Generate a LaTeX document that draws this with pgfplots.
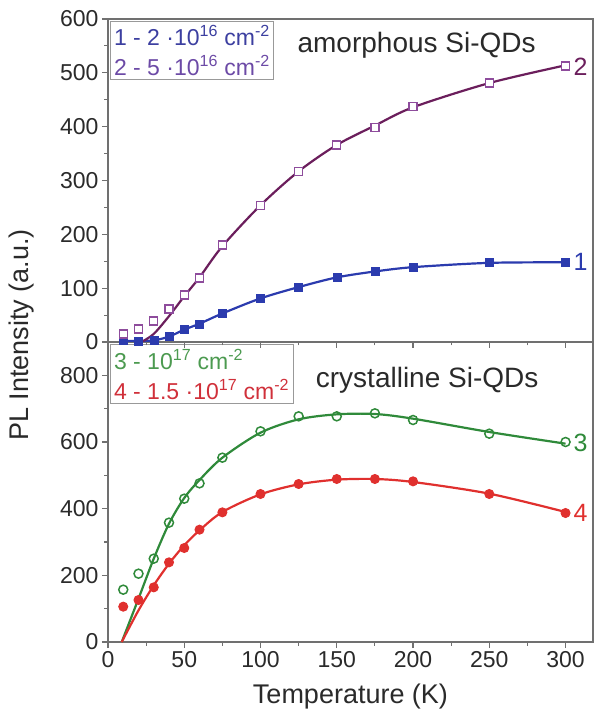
\documentclass[border=0pt]{standalone}
\usepackage{fontspec}
\setmainfont{Liberation Sans}
\usepackage{pgfplots}
\pgfplotsset{compat=1.18}

\definecolor{cblue}{HTML}{2B3BAE}
\definecolor{cpurple}{HTML}{6B1E5C}
\definecolor{cpurplemk}{HTML}{8E4C9C}
\definecolor{cgreen}{HTML}{2F8A3A}
\definecolor{cred}{HTML}{E0302E}
\definecolor{leg1}{HTML}{3C3FA0}
\definecolor{leg2}{HTML}{6C4AA6}
\definecolor{leg3}{HTML}{4C9A50}
\definecolor{leg4}{HTML}{D0303A}
\definecolor{axgray}{HTML}{707070}
\definecolor{txt}{HTML}{2A2A2A}

\pgfplotsset{
  panel/.style={
    scale only axis, width=485pt, xmin=0, xmax=318,
    axis line style={axgray, line width=1.3pt},
    every tick/.style={axgray, line width=1.1pt},
    tick align=outside, tick pos=left,
    major tick length=6pt, minor tick length=3.5pt,
    xtick={0,50,...,300}, minor x tick num=1, minor y tick num=1,
    ticklabel style={font=\fontsize{23}{23}\selectfont, text=txt},
    /pgf/number format/assume math mode=true,
    clip=true,
  },
  fitline/.style={smooth, line width=2.2pt, no marks},
}

\begin{document}
\begin{tikzpicture}
\useasboundingbox (-108pt,-82pt) rectangle (488pt,642pt);

% lower panel: crystalline Si-QDs
\begin{axis}[panel, at={(0pt,0pt)}, anchor=south west, height=300pt,
  ymin=0, ymax=900, ytick={0,200,...,800}]
  % fits
  \addplot[fitline, cgreen] coordinates {(9,0) (20,130) (30,250) (40,355) (50,432) (60,486) (75,553) (100,628) (125,668) (150,683) (175,684) (200,670) (250,630) (300,595)};
  \addplot[fitline, cred] coordinates {(9,0) (20,95) (30,170) (40,235) (50,290) (60,335) (75,390) (100,443) (125,473) (150,487) (175,489) (200,480) (250,445) (300,390)};
  % data
  \addplot[only marks, mark=o, mark size=4.5pt, mark options={cgreen, line width=1.5pt, fill=white}] coordinates {(10,157) (20,205) (30,250) (40,358) (50,430) (60,476) (75,553) (100,632) (125,677) (150,677) (175,686) (200,666) (250,625) (300,600)};
  \addplot[only marks, mark=*, mark size=4.5pt, mark options={cred, line width=1pt, fill=cred}] coordinates {(10,106) (20,126) (30,164) (40,239) (50,282) (60,337) (75,389) (100,444) (125,474) (150,489) (175,489) (200,482) (250,444) (300,387)};
  \node[anchor=north west, draw=gray!80, line width=1pt, inner sep=4pt, align=left,
        font=\fontsize{23}{30}\selectfont] at (axis cs:1,893)
    {\textcolor{leg3}{3 - 10\textsuperscript{17} cm\textsuperscript{-2}}\\
     \textcolor{leg4}{4 - 1.5 ·10\textsuperscript{17} cm\textsuperscript{-2}}};
  \node[anchor=west, font=\fontsize{28}{28}\selectfont, text=txt] at (axis cs:134,786) {crystalline Si-QDs};
  \node[anchor=west, font=\fontsize{25}{25}\selectfont, text=cgreen] at (axis cs:303,597) {3};
  \node[anchor=west, font=\fontsize{25}{25}\selectfont, text=cred] at (axis cs:303,387) {4};
\end{axis}

% upper panel: amorphous Si-QDs
\begin{axis}[panel, at={(0pt,300pt)}, anchor=south west, height=323pt,
  ymin=0, ymax=600, ytick={0,100,...,600}, xticklabels={}]
  \addplot[fitline, cblue] coordinates {(10,2) (20,2) (30,3) (40,10) (50,23) (60,34) (75,53) (100,81) (125,102) (150,120) (175,131) (200,139) (250,147) (300,148)};
  \addplot[fitline, cpurple] coordinates {(22,0) (30,15) (40,48) (50,85) (60,120) (75,178) (100,254) (125,317) (150,366) (175,402) (200,436) (250,481) (300,514)};
  \addplot[only marks, mark=square*, mark size=4pt, mark options={cblue, fill=cblue}] coordinates {(10,3) (20,2) (30,3) (40,10) (50,24) (60,33) (75,53) (100,81) (125,102) (150,121) (175,131) (200,139) (250,148) (300,148)};
  \addplot[only marks, mark=square*, mark size=4pt, mark options={cpurplemk, line width=1.4pt, fill=white}] coordinates {(10,15) (20,24) (30,39) (40,61) (50,87) (60,119) (75,180) (100,254) (125,317) (150,366) (175,398) (200,438) (250,481) (300,513)};
  \node[anchor=north west, draw=gray!80, line width=1pt, inner sep=4pt, align=left,
        font=\fontsize{23}{30}\selectfont] at (axis cs:1,597)
    {\textcolor{leg1}{1 - 2 ·10\textsuperscript{16} cm\textsuperscript{-2}}\\
     \textcolor{leg2}{2 - 5 ·10\textsuperscript{16} cm\textsuperscript{-2}}};
  \node[anchor=west, font=\fontsize{28}{28}\selectfont, text=txt] at (axis cs:122,552) {amorphous Si-QDs};
  \node[anchor=west, font=\fontsize{25}{25}\selectfont, text=cpurple] at (axis cs:303,512) {2};
  \node[anchor=west, font=\fontsize{25}{25}\selectfont, text=cblue] at (axis cs:303,148) {1};
\end{axis}

\node[font=\fontsize{27}{27}\selectfont, text=txt] at (242.5pt,-55pt) {Temperature (K)};
\node[font=\fontsize{27}{27}\selectfont, text=txt, rotate=90] at (-86pt,307pt) {PL Intensity (a.u.)};
\end{tikzpicture}
\end{document}
